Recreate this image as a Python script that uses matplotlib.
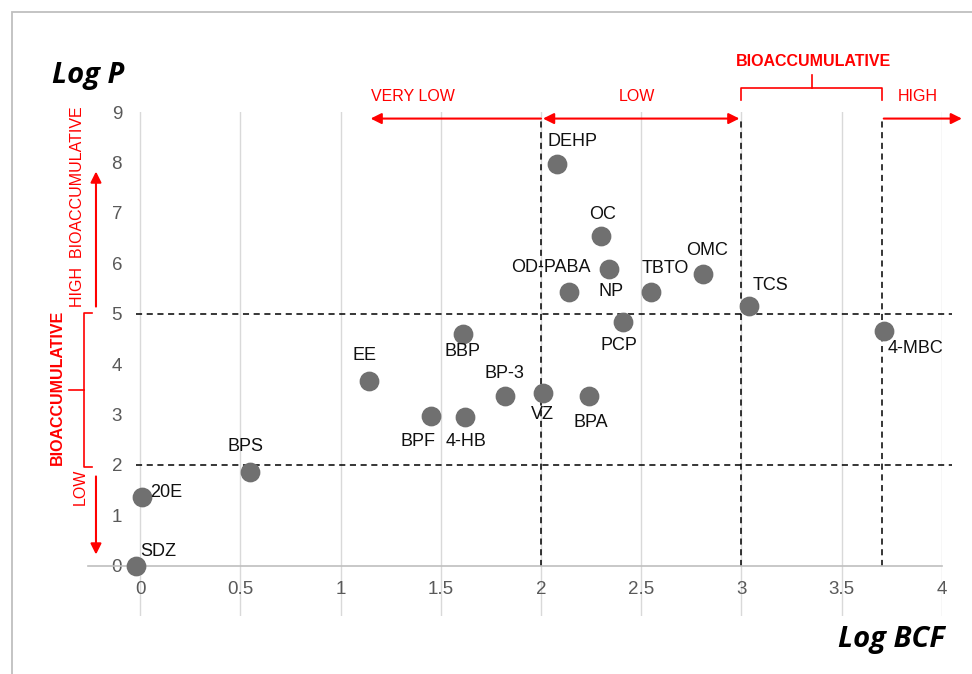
import matplotlib as mpl
import matplotlib.pyplot as plt
from matplotlib.patches import Rectangle

mpl.rcParams['font.family'] = ['Liberation Sans', 'DejaVu Sans']

# compounds: log BCF (x) vs log P (y)
names = ["SDZ", "20E", "BPS", "EE", "BPF", "4-HB", "BBP", "BP-3", "VZ", "BPA",
         "PCP", "DEHP", "OC", "NP", "OD-PABA", "TBTO", "OMC", "TCS", "4-MBC"]
log_bcf = [-0.02, 0.01, 0.55, 1.14, 1.45, 1.62, 1.61, 1.82, 2.01, 2.24,
           2.41, 2.08, 2.30, 2.34, 2.14, 2.55, 2.81, 3.04, 3.71]
log_p = [0.0, 1.37, 1.85, 3.67, 2.96, 2.94, 4.60, 3.37, 3.43, 3.37,
         4.84, 7.96, 6.55, 5.89, 5.42, 5.42, 5.79, 5.16, 4.66]
xticks = [0, 0.5, 1, 1.5, 2, 2.5, 3, 3.5, 4]
xtick_labels = ["0", "0.5", "1", "1.5", "2", "2.5", "3", "3.5", "4"]
yticks = list(range(10))

# label offsets in points (dx, dy, ha)
lab_off = {
    "SDZ": (3, 10, "left"), "20E": (6, 3, "left"), "BPS": (-3.5, 19, "center"),
    "EE": (-3, 18, "center"), "BPF": (-9, -18, "center"), "4-HB": (1, -17, "center"),
    "BBP": (0, -13, "center"), "BP-3": (0, 16, "center"), "VZ": (0, -16, "center"),
    "BPA": (1.5, -19.5, "center"), "PCP": (-3, -17, "center"), "DEHP": (11.5, 16.5, "center"),
    "OC": (1, 15, "center"), "NP": (1.5, -16.5, "center"), "OD-PABA": (-13, 18, "center"),
    "TBTO": (10, 17, "center"), "OMC": (3, 17, "center"), "TCS": (2, 14.5, "left"),
    "4-MBC": (3, -13, "left"),
}

RED = "#ff0000"
narrow = ['Liberation Sans Narrow', 'Liberation Sans']

fig = plt.figure(figsize=(9.72, 6.74), dpi=100)
fig.patches.append(Rectangle((12/972, -0.05), 1.2, 1.05 - 12/674, transform=fig.transFigure,
                             fill=False, edgecolor="#bfbfbf", lw=1.3))
ax = fig.add_axes([0.0905, 0.086, 0.969 - 0.0905, 0.8338 - 0.086])
ax.set_xlim(-0.26, 4.0)
ax.set_ylim(-1, 9)

for s in ["top", "right", "left"]:
    ax.spines[s].set_visible(False)
ax.spines["bottom"].set_position(("data", 0))
ax.spines["bottom"].set_color("#bfbfbf")
ax.spines["bottom"].set_linewidth(1.2)
ax.spines["left"].set_position(("data", 0))

ax.set_xticks(xticks)
ax.set_xticklabels(xtick_labels)
ax.set_yticks(yticks)
ax.tick_params(length=0, labelsize=13.5, labelcolor="#595959")
ax.tick_params(axis="x", pad=11)
ax.tick_params(axis="y", pad=13)
ax.grid(axis="x", color="#d9d9d9", lw=1)
ax.set_axisbelow(True)

# threshold lines
dash = dict(color="black", lw=1.1, ls=(0, (4, 3)), zorder=2)
ax.plot([-0.02, 4.05], [5, 5], clip_on=False, **dash)
ax.plot([-0.02, 4.05], [2, 2], clip_on=False, **dash)
for xv in [2, 3, 3.7]:
    ax.plot([xv, xv], [0, 8.87], **dash)

ax.scatter(log_bcf, log_p, s=175, color="#707070", zorder=3, clip_on=False)
for n, x, y in zip(names, log_bcf, log_p):
    dx, dy, ha = lab_off[n]
    ax.annotate(n, (x, y), xytext=(dx, dy), textcoords="offset points",
                ha=ha, va="center", fontsize=13, color="#111111")

# top category arrows
arr = dict(color=RED, lw=1.5, mutation_scale=16, shrinkA=0, shrinkB=0)
ax.annotate("", xy=(1.15, 8.87), xytext=(2.0, 8.87), annotation_clip=False,
            arrowprops=dict(arrowstyle="-|>", **arr))
ax.annotate("", xy=(2.01, 8.87), xytext=(2.99, 8.87), annotation_clip=False,
            arrowprops=dict(arrowstyle="<|-|>", **arr))
ax.annotate("", xy=(4.1, 8.87), xytext=(3.71, 8.87), annotation_clip=False,
            arrowprops=dict(arrowstyle="-|>", **arr))
tk = dict(color=RED, fontsize=11.5, ha="center", va="center", family=narrow, clip_on=False)
ax.text(1.36, 9.31, "VERY LOW", **tk)
ax.text(2.48, 9.31, "LOW", **tk)
ax.text(3.88, 9.31, "HIGH", **tk)
ax.plot([3.0, 3.0, 3.7, 3.7], [9.23, 9.48, 9.48, 9.23], color=RED, lw=1.2, clip_on=False)
ax.plot([3.35, 3.35], [9.48, 9.74], color=RED, lw=1.2, clip_on=False)
ax.text(3.36, 10.0, "BIOACCUMULATIVE", fontweight="bold", **tk)

# left category arrows
ax.annotate("", xy=(-0.22, 7.82), xytext=(-0.22, 5.14), annotation_clip=False,
            arrowprops=dict(arrowstyle="-|>", **arr))
ax.annotate("", xy=(-0.22, 0.22), xytext=(-0.22, 1.77), annotation_clip=False,
            arrowprops=dict(arrowstyle="-|>", **arr))
ax.plot([-0.24, -0.28, -0.28, -0.24], [5.02, 5.02, 1.96, 1.96], color=RED, lw=1.2, clip_on=False)
ax.plot([-0.28, -0.354], [3.49, 3.49], color=RED, lw=1.2, clip_on=False)
tl = dict(tk, rotation=90)
ax.text(-0.31, 7.12, "HIGH  BIOACCUMULATIVE", **tl)
ax.text(-0.414, 3.53, "BIOACCUMULATIVE", fontweight="bold", **tl)
ax.text(-0.30, 1.57, "LOW", **tl)

ttl = dict(fontsize=21, fontweight="bold", style="italic", va="center",
           family=["Open Sans", "DejaVu Sans"])
fig.text(52/972, 1 - 75/674, "Log P", ha="left", **ttl)
fig.text(945/972, 1 - 640/674, "Log BCF", ha="right", **ttl)

fig.savefig("out.png", dpi=100)
